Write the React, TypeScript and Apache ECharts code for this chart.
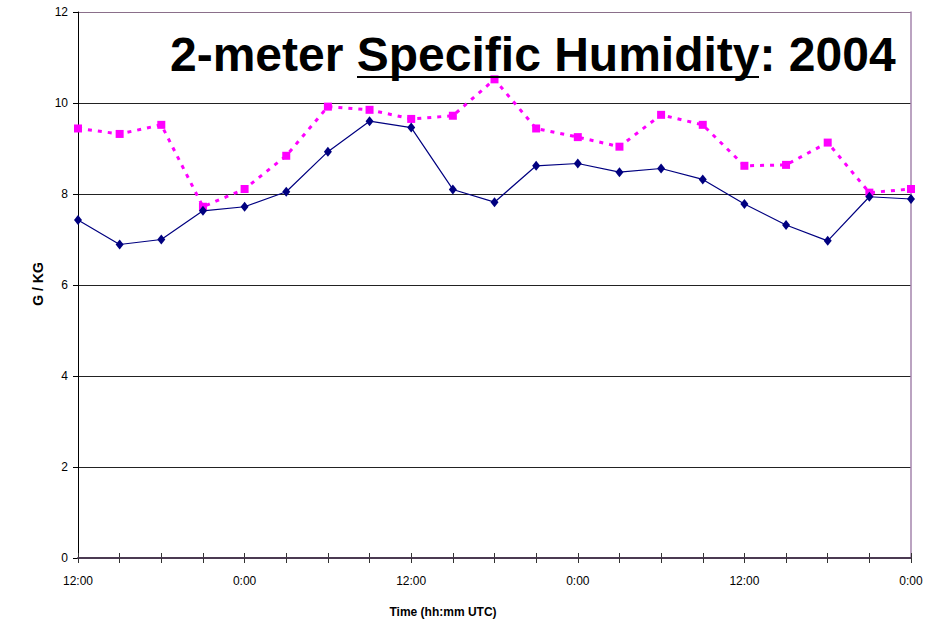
import React, { useEffect, useRef } from "react";
import * as echarts from "echarts";

const timeLabels = ["12:00","15:00","18:00","21:00","0:00","3:00","6:00","9:00","12:00","15:00","18:00","21:00","0:00","3:00","6:00","9:00","12:00","15:00","18:00","21:00","0:00"];
const observedValues = [7.43,6.89,7.0,7.63,7.72,8.05,8.93,9.6,9.46,8.1,7.82,8.62,8.67,8.48,8.56,8.32,7.78,7.32,6.97,7.94,7.89];
const modelValues = [9.44,9.32,9.52,7.72,8.11,8.84,9.92,9.85,9.65,9.72,10.52,9.44,9.25,9.04,9.74,9.52,8.62,8.64,9.13,8.03,8.11];
const yTicks = [0, 2, 4, 6, 8, 10, 12];
const titleText = "2-meter Specific Humidity: 2004";
const xAxisTitle = "Time (hh:mm UTC)";
const yAxisTitle = "G / KG";

export default function App() {
  const ref = useRef<HTMLDivElement>(null);
  useEffect(() => {
    if (!ref.current) return;
    const chart = echarts.init(ref.current, null, { renderer: "svg" });
    const font = "Liberation Sans, Arial, sans-serif";
    chart.setOption({
      animation: false,
      backgroundColor: "#ffffff",
      grid: { left: 78, right: 35, top: 12, bottom: 66, containLabel: false },
      xAxis: [
        {
          type: "category",
          data: timeLabels,
          boundaryGap: false,
          axisLine: { show: true, lineStyle: { color: "#4b3a52", width: 2 } },
          axisTick: { show: true, interval: 0, length: 5, lineStyle: { color: "#333", width: 1 } },
          axisLabel: { interval: 3, margin: 17, color: "#000", fontSize: 12, fontFamily: font },
          splitLine: { show: false },
          z: 5,
        },
        {
          type: "category",
          data: timeLabels,
          boundaryGap: false,
          position: "bottom",
          axisLine: { show: false },
          axisTick: { show: true, inside: true, interval: 0, length: 5, lineStyle: { color: "#333", width: 1 } },
          axisLabel: { show: false },
          splitLine: { show: false },
        },
      ],
      yAxis: [
        {
          type: "value",
          min: yTicks[0],
          max: yTicks[yTicks.length - 1],
          interval: 2,
          axisLine: { show: true, lineStyle: { color: "#000", width: 1 } },
          axisTick: { show: true, length: 5, lineStyle: { color: "#000" } },
          axisLabel: { margin: 10, color: "#000", fontSize: 12, fontFamily: font },
          splitLine: {
            show: true,
            lineStyle: { color: ["#000", "#222", "#222", "#222", "#222", "#222", "#8a6f8a"], width: 1 },
          },
        },
        {
          type: "value",
          position: "right",
          min: yTicks[0],
          max: yTicks[yTicks.length - 1],
          interval: 2,
          axisLine: { show: true, lineStyle: { color: "#a585ad", width: 1.5 } },
          axisTick: { show: false },
          axisLabel: { show: false },
          splitLine: { show: false },
        },
      ],
      series: [
        {
          type: "line",
          name: "Model",
          data: modelValues,
          xAxisIndex: 0,
          yAxisIndex: 0,
          symbol: "rect",
          symbolSize: 8,
          itemStyle: { color: "#ff00ff" },
          lineStyle: { color: "#ff00ff", width: 3, type: [4, 6] },
          z: 3,
        },
        {
          type: "line",
          name: "Observed",
          data: observedValues,
          xAxisIndex: 0,
          yAxisIndex: 0,
          symbol: "diamond",
          symbolSize: [8, 10],
          itemStyle: { color: "#000080" },
          lineStyle: { color: "#000080", width: 1.2 },
          z: 4,
        },
      ],
      graphic: [
        {
          type: "text",
          x: 170,
          y: 54,
          style: {
            text: titleText,
            font: "bold 48px Liberation Sans, Arial, sans-serif",
            fill: "#000",
            align: "left",
            verticalAlign: "middle",
          },
          z: 10,
        },
        {
          type: "line",
          shape: { x1: 357, y1: 77, x2: 759, y2: 77 },
          style: { stroke: "#000", lineWidth: 2 },
          z: 10,
        },
        {
          type: "text",
          x: 443,
          y: 612,
          style: {
            text: xAxisTitle,
            font: "bold 12px Liberation Sans, Arial, sans-serif",
            fill: "#000",
            align: "center",
            verticalAlign: "middle",
          },
        },
        {
          type: "text",
          x: 38,
          y: 284,
          rotation: Math.PI / 2,
          style: {
            text: yAxisTitle,
            font: "bold 14px Liberation Sans, Arial, sans-serif",
            fill: "#000",
            align: "center",
            verticalAlign: "middle",
          },
        },
      ],
    });
    return () => chart.dispose();
  }, []);
  return (
    <div
      ref={ref}
      style={{ position: "absolute", left: 0, top: 0, width: 946, height: 624 }}
    />
  );
}
